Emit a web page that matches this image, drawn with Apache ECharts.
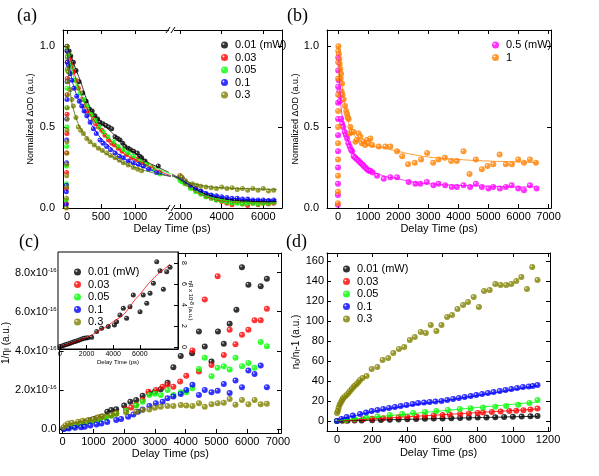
<!DOCTYPE html>
<html>
<head>
<meta charset="utf-8">
<script src="https://cdn.jsdelivr.net/npm/echarts@6/dist/echarts.min.js"></script>
<style>
html,body{margin:0;padding:0;background:#fff}
#chart{width:599px;height:476px}
</style>
</head>
<body>
<div id="chart"></div>
<script>
// ---------- data ----------
const powerNames = ['0.01 (mW)', '0.03', '0.05', '0.1', '0.3'];
const powerNamesB = ['0.5 (mW)', '1'];

// tick values
const aTicksL = [0, 500, 1000];
const aTicksR = [2000, 4000, 6000];
const aTicksY = [0, 0.5, 1.0];
const bTicksX = [0, 1000, 2000, 3000, 4000, 5000, 6000, 7000];
const cTicksX = [0, 1000, 2000, 3000, 4000, 5000, 6000, 7000];
const cTicksY = [0, 2, 4, 6, 8];
const insetTicksX = [0, 2000, 4000, 6000];
const insetTicksY = [0, 2, 4, 6, 8];
const dTicksX = [0, 200, 400, 600, 800, 1000, 1200];
const dTicksY = [0, 20, 40, 60, 80, 100, 120, 140, 160];

// (a) normalized dOD vs delay, [ps, value]
const a001 = [[0,1.0],[30,0.97],[55,0.94],[93,0.90],[132,0.85],[176,0.78],[230,0.71],[280,0.66],[330,0.61],[370,0.60],[410,0.57],[450,0.55],[485,0.53],[530,0.52],[573,0.51],[615,0.50],[657,0.49],[706,0.44],[745,0.43],[780,0.42],[820,0.40],[853,0.38],[900,0.37],[936,0.36],[980,0.35],[1034,0.34],[1070,0.32],[1098,0.31],[1147,0.29],[1343,0.26],
  [2000,0.19],[2100,0.18],[2250,0.16],[2500,0.14],[2750,0.12],[3000,0.10],[3250,0.085],[3500,0.07],[3750,0.055],[4000,0.05],[4250,0.045],[4500,0.04],[4750,0.05],[5000,0.04],[5250,0.045],[5500,0.04],[5750,0.04],[6000,0.035],[6250,0.045],[6500,0.04]];
const a003 = [[-12,0.03],[-9,0.12],[-7,0.22],[-5,0.34],[-3,0.46],[-1,0.58],[1,0.7],[3,0.8],[5,0.9],
  [0,0.97],[20,0.95],[44,0.92],[70,0.88],[93,0.84],[130,0.79],[166,0.74],[216,0.67],[260,0.63],[299,0.60],[340,0.58],[387,0.55],[420,0.52],[460,0.50],[510,0.48],[559,0.45],[610,0.42],[657,0.40],[700,0.39],[754,0.37],[810,0.35],[878,0.33],[950,0.31],[1025,0.30],[1100,0.28],[1172,0.27],[1250,0.25],[1368,0.22],
  [2000,0.20],[2100,0.18],[2250,0.15],[2500,0.13],[2750,0.11],[3000,0.09],[3250,0.07],[3500,0.06],[3750,0.05],[4000,0.04],[4250,0.03],[4500,0.02],[4750,0.035],[5000,0.025],[5250,0.015],[5500,0.03],[5750,0.02],[6000,0.03],[6250,0.025],[6500,0.03]];
const a005 = [[-14,0.05],[-10,0.15],[-8,0.26],[-6,0.38],[-4,0.5],[-2,0.62],[0,0.74],[2,0.85],[4,0.94],
  [0,0.98],[30,0.95],[73,0.87],[118,0.79],[150,0.75],[191,0.71],[240,0.67],[290,0.63],[350,0.58],[412,0.54],[470,0.50],[534,0.47],[600,0.44],[681,0.41],[750,0.38],[828,0.36],[900,0.34],[975,0.32],[1070,0.29],[1172,0.27],[1270,0.24],[1368,0.21],
  [2000,0.17],[2100,0.16],[2250,0.15],[2500,0.12],[2750,0.10],[3000,0.085],[3250,0.07],[3500,0.06],[3750,0.05],[4000,0.045],[4250,0.035],[4500,0.03],[4750,0.03],[5000,0.025],[5250,0.03],[5500,0.03],[5750,0.025],[6000,0.03],[6250,0.03],[6500,0.035]];
const a01 = [[-13,0.02],[-11,0.1],[-9,0.14],[-7,0.28],[-5,0.42],[-3,0.55],[-1,0.67],[1,0.78],[3,0.9],
  [0,0.97],[20,0.88],[45,0.83],[69,0.79],[100,0.74],[142,0.69],[180,0.66],[216,0.63],[250,0.60],[290,0.57],[340,0.53],[387,0.49],[430,0.46],[485,0.42],[530,0.40],[583,0.38],[640,0.36],[706,0.34],[770,0.32],[828,0.31],[900,0.29],[975,0.28],[1050,0.27],[1123,0.26],[1200,0.24],[1319,0.22],
  [2000,0.19],[2100,0.18],[2250,0.16],[2500,0.14],[2750,0.12],[3000,0.105],[3250,0.09],[3500,0.08],[3750,0.075],[4000,0.07],[4250,0.065],[4500,0.06],[4750,0.06],[5000,0.055],[5250,0.055],[5500,0.05],[5750,0.05],[6000,0.05],[6250,0.045],[6500,0.05]];
const a03 = [[-10,0.0],[-8,0.06],[-6,0.13],[-5,0.2],[-4,0.27],[-3,0.34],[-2,0.41],[-1,0.48],[0,0.55],[1,0.62],[2,0.7],[3,0.78],[4,0.86],[5,0.93],
  [0,1.0],[20,0.84],[44,0.73],[70,0.67],[93,0.63],[130,0.56],[166,0.50],[200,0.48],[240,0.46],[290,0.43],[338,0.41],[400,0.39],[460,0.37],[520,0.355],[583,0.34],[640,0.325],[706,0.31],[770,0.295],[828,0.28],[900,0.265],[975,0.25],[1040,0.24],[1098,0.23],
  [2000,0.20],[2100,0.19],[2250,0.17],[2400,0.15],[2600,0.15],[2800,0.14],[3000,0.135],[3250,0.13],[3500,0.125],[3750,0.12],[4000,0.13],[4250,0.12],[4500,0.125],[4750,0.115],[5000,0.12],[5250,0.11],[5500,0.12],[5750,0.11],[6000,0.12],[6250,0.105],[6500,0.11]];

// (a) fitted curves
const aFit001 = [[0,1.0],[50,0.95],[100,0.89],[200,0.78],[300,0.66],[400,0.58],[500,0.53],[600,0.49],[700,0.45],[800,0.41],[900,0.37],[1000,0.34],[1100,0.31],[1200,0.28],[1300,0.26],[1400,0.24],[1500,0.22],
  [1620,0.21],[2000,0.18],[2500,0.14],[3000,0.10],[3500,0.075],[4000,0.06],[4500,0.05],[5000,0.045],[6000,0.04],[6650,0.04]];
const aFit003 = [[0,0.98],[50,0.91],[100,0.84],[200,0.71],[300,0.61],[400,0.54],[500,0.48],[600,0.43],[700,0.39],[800,0.35],[900,0.32],[1000,0.30],[1200,0.26],[1400,0.22],[1530,0.20],
  [1620,0.20],[2000,0.17],[2500,0.12],[3000,0.085],[3500,0.06],[4000,0.045],[5000,0.035],[6650,0.03]];
const aFit005 = [[0,0.98],[50,0.89],[100,0.81],[200,0.70],[300,0.62],[400,0.55],[500,0.49],[600,0.44],[700,0.40],[800,0.37],[900,0.34],[1000,0.31],[1200,0.27],[1400,0.23],[1530,0.21],
  [1620,0.20],[2000,0.17],[2500,0.12],[3000,0.09],[3500,0.065],[4000,0.05],[5000,0.035],[6650,0.03]];
const aFit01 = [[0,0.97],[50,0.84],[100,0.75],[200,0.64],[300,0.56],[400,0.49],[500,0.43],[600,0.39],[700,0.35],[800,0.32],[900,0.29],[1000,0.27],[1200,0.24],[1400,0.21],[1530,0.195],
  [1620,0.20],[2000,0.18],[2500,0.14],[3000,0.11],[3500,0.085],[4000,0.07],[5000,0.055],[6650,0.05]];
const aFit03 = [[0,0.98],[30,0.80],[60,0.68],[100,0.60],[200,0.49],[300,0.43],[400,0.39],[500,0.36],[600,0.33],[700,0.31],[800,0.285],[900,0.265],[1000,0.25],[1200,0.225],[1400,0.205],[1530,0.195],
  [1620,0.20],[2000,0.18],[2500,0.155],[3000,0.14],[3500,0.13],[4000,0.125],[5000,0.12],[6650,0.115]];

// (b)
const b05 = [[-8,0.02],[-6,0.08],[-4,0.15],[-3,0.25],[-2,0.35],[-1,0.45],[0,0.55],[1,0.65],[2,0.75],[3,0.85],[5,0.93],
  [20,0.79],[40,0.72],[60,0.66],[76,0.69],[100,0.55],[133,0.52],[170,0.50],[220,0.47],[260,0.45],[299,0.43],[340,0.40],[385,0.38],[430,0.36],[465,0.35],[518,0.32],[570,0.31],[631,0.30],[690,0.29],[741,0.28],[800,0.27],[850,0.26],[907,0.25],[960,0.24],[1020,0.23],[1073,0.23],[1150,0.22],[1296,0.20],[1517,0.18],[1738,0.19],[1960,0.19],[2346,0.16],[2570,0.15],[2735,0.15],[2950,0.16],[3170,0.14],[3340,0.15],[3560,0.14],[3780,0.13],[3950,0.13],[4170,0.14],[4390,0.13],[4580,0.15],[4780,0.13],[5000,0.12],[5160,0.13],[5380,0.12],[5580,0.13],[5770,0.14],[5990,0.12],[6180,0.11],[6380,0.14],[6600,0.12]];
const b1 = [[-6,0.03],[-5,0.1],[-4,0.2],[-3,0.3],[-2,0.4],[-1,0.5],[0,0.6],[1,0.7],[2,0.8],[3,0.9],[5,0.97],[10,1.0],[25,0.95],[40,0.92],[53,0.89],[70,0.86],[85,0.80],[100,0.83],[115,0.72],[130,0.77],[150,0.70],[186,0.67],[230,0.63],[270,0.60],[299,0.58],[320,0.56],[352,0.55],[385,0.46],[408,0.50],[450,0.47],[518,0.47],[575,0.41],[620,0.42],[684,0.46],[741,0.44],[790,0.40],[851,0.41],[900,0.39],[963,0.42],[1020,0.40],[1073,0.43],[1130,0.39],[1350,0.38],[1570,0.38],[1740,0.38],[1960,0.35],[2130,0.32],[2326,0.27],[2550,0.28],[2760,0.30],[2960,0.34],[3160,0.28],[3340,0.30],[3550,0.31],[3760,0.29],[3950,0.29],[4170,0.35],[4370,0.21],[4580,0.30],[4780,0.24],[4970,0.26],[5160,0.27],[5370,0.33],[5580,0.27],[5780,0.27],[5990,0.30],[6180,0.28],[6380,0.30],[6580,0.28]];
const bFit05 = [[20,0.95],[60,0.75],[100,0.62],[200,0.50],[300,0.43],[400,0.38],[500,0.34],[700,0.29],[1000,0.24],[1500,0.20],[2000,0.18],[2500,0.16],[3000,0.15],[4000,0.14],[5000,0.135],[6000,0.13],[6600,0.13]];
const bFit1 = [[20,1.0],[60,0.90],[100,0.82],[200,0.66],[300,0.56],[400,0.50],[500,0.46],[700,0.42],[1000,0.39],[1500,0.37],[2000,0.35],[2500,0.33],[3000,0.315],[4000,0.30],[5000,0.29],[6000,0.285],[6600,0.28]];

// (c) 1/eta_I in units of 1e-16
const c001 = [[20,0.03],[100,0.08],[200,0.12],[300,0.16],[400,0.2],[500,0.25],[600,0.3],[700,0.35],[800,0.4],[900,0.45],[1000,0.5],[1100,0.55],[1260,0.63],[1450,0.89],[1580,0.97],[1740,1.01],[2000,1.2],[2200,1.40],[2390,1.49],[2600,1.71],[2820,1.83],[3000,1.91],[3190,2.03],[3410,2.37],[3600,3.16],[3840,3.74],[4210,3.88],[4430,4.99],[4620,4.22],[4840,3.45],[5050,4.99],[5240,4.36],[5430,5.38],[5650,6.10],[5830,8.27],[6040,7.38],[6440,7.30],[6640,7.68]];
const c003 = [[50,0.05],[200,0.1],[400,0.18],[600,0.27],[800,0.35],[1000,0.43],[1200,0.5],[1400,0.6],[1580,0.7],[1740,0.8],[2060,1.0],[2230,1.1],[2390,1.23],[2600,1.49],[2790,1.91],[3030,2.0],[3250,2.17],[3410,2.26],[3600,2.17],[3820,2.43],[4020,2.72],[4220,4.02],[4430,2.94],[4620,6.62],[4840,3.28],[5040,7.81],[5240,3.79],[5430,5.08],[5620,4.34],[5830,4.82],[6040,5.08],[6240,5.56],[6440,5.56],[6640,6.15]];
const c005 = [[50,0.04],[200,0.1],[400,0.17],[600,0.25],[800,0.32],[1000,0.4],[1200,0.48],[1400,0.58],[1580,0.68],[1740,0.78],[2060,0.94],[2390,1.2],[2600,1.4],[2820,1.74],[3000,1.81],[3190,1.74],[3410,2.0],[3600,1.74],[3840,1.88],[4020,1.88],[4220,2.09],[4430,3.07],[4620,3.64],[4840,2.70],[5040,3.13],[5240,3.21],[5430,3.04],[5620,3.64],[5830,3.21],[6040,3.38],[6240,3.13],[6440,4.45],[6640,4.23]];
const c01 = [[50,0.0],[200,0.03],[400,0.07],[600,0.1],[720,0.12],[900,0.18],[1100,0.24],[1260,0.29],[1450,0.36],[1740,0.46],[1900,0.52],[2130,0.63],[2300,0.75],[2450,0.89],[2600,1.0],[2820,1.18],[3030,1.32],[3250,1.40],[3410,1.57],[3600,1.66],[3840,1.79],[4020,2.0],[4220,2.26],[4430,1.74],[4620,2.0],[4840,1.88],[5040,1.96],[5240,2.31],[5430,1.84],[5620,2.48],[5830,2.14],[6040,2.99],[6240,2.82],[6440,3.25],[6640,2.14]];
const c03 = [[30,0.1],[100,0.2],[180,0.29],[300,0.33],[500,0.38],[650,0.42],[830,0.46],[1000,0.52],[1150,0.60],[1300,0.65],[1580,0.72],[1740,0.80],[2060,0.86],[2390,0.89],[2600,0.97],[2820,1.0],[3000,1.09],[3190,1.14],[3410,1.18],[3600,1.18],[3840,1.23],[4020,1.20],[4220,1.18],[4430,1.32],[4620,1.14],[4840,1.27],[5040,1.32],[5240,1.35],[5430,1.54],[5620,1.25],[5830,1.49],[6040,1.27],[6240,1.49],[6440,1.27],[6640,1.30]];

// (c) inset: eta_R x 1e-8
const inset001 = [[0,0.03],[150,0.08],[300,0.15],[450,0.22],[600,0.28],[750,0.35],[900,0.42],[1050,0.48],[1200,0.55],[1350,0.62],[1500,0.68],[1650,0.75],[1800,0.82],[1950,0.85],[2100,0.88],[2380,0.92],[2760,1.46],[3130,1.78],[3630,1.94],[4090,2.1],[4260,2.4],[4510,3.05],[4760,3.69],[5010,2.73],[5260,3.84],[5510,4.95],[6015,3.36],[6260,4.95],[6520,4.16],[6770,5.11],[7020,6.06],[7270,8.12],[7520,7.27],[7770,5.5],[8020,7.17],[8270,7.59]];
const insetFit = [[0,0],[1000,0.42],[2000,0.9],[3000,1.6],[3500,1.95],[4000,2.4],[4640,2.95],[5000,3.4],[5640,4.5],[6000,5.0],[6500,5.8],[7000,6.5],[7500,7.1],[8000,7.6],[8270,7.9]];

// (d) n0/nI - 1
const d001 = [[0,0],[30,0.2],[60,0.3],[100,0.5],[140,0.6],[200,0.8],[250,1.0],[300,1.2],[350,1.5],[400,1.7],[450,2.0],[500,2.2],[550,2.4],[600,2.6],[650,2.8],[700,3.0],[750,3.2],[800,3.4],[850,3.6],[900,3.8],[950,4.0],[1000,4.2],[1050,4.4],[1100,4.7],[1140,5.0]];
const d003 = [[0,0],[50,0.6],[100,1.2],[150,1.8],[200,2.3],[263,2.8],[300,3.2],[350,3.7],[400,4.1],[452,4.6],[500,5.1],[550,5.6],[600,6.1],[641,6.5],[700,7.1],[750,7.6],[800,8.1],[830,8.4],[880,8.9],[930,9.4],[980,9.9],[1019,10.3],[1060,10.8],[1100,11.5],[1140,12.5]];
const d005 = [[0,0],[50,1],[100,2],[168,3.2],[230,4.5],[300,6],[370,7],[433,8],[500,9],[565,10],[630,11],[698,12],[760,12.8],[830,13.5],[900,14.3],[962,15],[1030,16.3],[1094,18],[1140,21]];
const d01 = [[0,0],[25,2],[55,4],[90,5.5],[131,7],[165,8.5],[197,10],[230,11],[263,12],[296,13],[329,14],[362,15],[395,16],[430,17],[461,18],[495,18.5],[527,19],[560,19.5],[594,20],[627,21],[660,22],[693,23],[726,24],[760,25],[792,26],[825,27],[858,28],[890,29],[925,30],[958,31],[991,32],[1024,33],[1057,34],[1090,34.5],[1113,35],[1140,36]];
const d03 = [[0,8],[5,10],[9,13],[14,16],[20,18],[27,20],[32,22],[36,23],[45,24.5],[55,26],[65,28],[74,30],[84,32],[93,34],[102,35.5],[112,37],[122,39],[131,41],[145,43],[168,45],[197,52],[229,54],[259,61],[291,63],[320,68],[352,72],[382,74],[414,81],[442,84],[476,89],[505,88],[533,96],[565,90],[594,96],[626,104],[654,106],[685,112],[717,116],[745,119],[777,124],[807,114],[836,130],[868,131],[900,137],[930,136],[962,136],[991,137],[1019,140],[1048,144],[1080,132],[1110,154],[1140,141]];
const dFit001 = [[0,0],[1140,4.8]];
const dFit003 = [[0,0],[1140,12]];
const dFit005 = [[0,0.5],[1140,19]];
const dFit01 = [[0,1],[200,9],[400,15],[600,20],[800,25.5],[1000,31],[1140,35.5]];

// ---------- styling helpers ----------
const FONT = 'Liberation Sans';
const COL = ['#000000', '#ff0000', '#00ff00', '#0000ff', '#808000'];
const COLB = ['#ff00ff', '#ff8000'];
const plain = v => String(v);

function ball(c) {
  return {type: 'radial', x: 0.35, y: 0.35, r: 0.7,
    colorStops: [{offset: 0, color: '#ffffff'}, {offset: 0.3, color: c}, {offset: 1, color: c}]};
}

function xAx(grid, min, max, vals, showLabel, pos, extra) {
  return Object.assign({
    type: 'value', gridIndex: grid, min: min, max: max, position: pos || 'bottom',
    axisLine: {onZero: false, lineStyle: {color: '#000', width: 1}},
    axisTick: {inside: true, length: 4, customValues: vals, lineStyle: {color: '#000'}},
    axisLabel: {show: showLabel, customValues: vals, formatter: plain, color: '#000', fontFamily: FONT, fontSize: 11, margin: 3},
    splitLine: {show: false}
  }, extra || {});
}
function yAx(grid, min, max, vals, showLabel, pos, extra) {
  return Object.assign({
    type: 'value', gridIndex: grid, min: min, max: max, position: pos || 'left',
    axisLine: {onZero: false, lineStyle: {color: '#000', width: 1}},
    axisTick: {inside: true, length: 4, customValues: vals, lineStyle: {color: '#000'}},
    axisLabel: {show: showLabel, customValues: vals, formatter: plain, color: '#000', fontFamily: FONT, fontSize: 11, margin: 3},
    splitLine: {show: false}
  }, extra || {});
}
function pts(name, data, color, xi, yi, size) {
  return {type: 'scatter', name: name, data: data, xAxisIndex: xi, yAxisIndex: yi,
    symbol: 'circle', symbolSize: size, itemStyle: {color: ball(color)}, z: 3};
}
function fit(data, color, xi, yi) {
  return {type: 'line', data: data, xAxisIndex: xi, yAxisIndex: yi, symbol: 'none', smooth: true,
    lineStyle: {color: color, width: 0.8}, silent: true, z: 4};
}
const nameStyle = (size) => ({fontFamily: FONT, fontSize: size, color: '#000'});

// split (a) data over the broken axis
const BREAK = 1580;
const leftPart = d => d.filter(p => p[0] < BREAK);
const rightPart = d => d.filter(p => p[0] >= BREAK);

const aData = [a001, a003, a005, a01, a03];
const aFits = [aFit001, aFit003, aFit005, aFit01, aFit03];
const cData = [c001, c003, c005, c01, c03];
const dData = [d001, d003, d005, d01, d03];
const dFits = [dFit001, dFit003, dFit005, dFit01];

// ---------- option ----------
const series = [];
aData.forEach((d, i) => {
  series.push(fit(leftPart(aFits[i]), i === 4 ? '#3d6b00' : COL[i], 0, 0));
  series.push(fit(rightPart(aFits[i]), i === 4 ? '#3d6b00' : COL[i], 2, 1));
});
aData.forEach((d, i) => {
  series.push(pts(powerNames[i], leftPart(d), COL[i], 0, 0, 5));
  series.push(pts(powerNames[i], rightPart(d), COL[i], 2, 1, 5));
});
series.push(pts(powerNamesB[0], b05, COLB[0], 4, 2, 6));
series.push(pts(powerNamesB[1], b1, COLB[1], 4, 2, 6));
series.push(fit(bFit05, COLB[0], 4, 2));
series.push(fit(bFit1, COLB[1], 4, 2));
cData.forEach((d, i) => series.push(pts(powerNames[i], d, COL[i], 6, 4, 6)));
series.push(pts(powerNames[0], inset001, COL[0], 8, 6, 5));
series.push(fit(insetFit, '#ff0000', 8, 6));
dFits.forEach((d, i) => series.push(fit(d, COL[i], 9, 7)));
dData.forEach((d, i) => series.push(pts(powerNames[i], d, COL[i], 9, 7, 6)));

const legendBase = {
  orient: 'vertical', icon: 'circle', itemWidth: 7, itemHeight: 7, itemGap: 0.5,
  textStyle: {fontFamily: FONT, fontSize: 11, color: '#000', lineHeight: 12, padding: [0, 0, 0, 2]},
  selectedMode: false
};

const option = {
  animation: false,
  backgroundColor: '#fff',
  grid: [
    {left: 63, top: 30, width: 109, height: 178},
    {left: 172, top: 30, width: 110, height: 178},
    {left: 327, top: 30, width: 224, height: 178},
    {left: 58, top: 253, width: 223, height: 180},
    {left: 58, top: 252, width: 120, height: 97, show: true, backgroundColor: '#fff', borderColor: '#000', borderWidth: 1, z: 1},
    {left: 327, top: 253, width: 223, height: 178}
  ],
  xAxis: [
    xAx(0, -60, 1545, aTicksL, true, 'bottom'),
    xAx(0, -60, 1545, aTicksL, false, 'top'),
    xAx(1, 1615, 6900, aTicksR, true, 'bottom'),
    xAx(1, 1615, 6900, aTicksR, false, 'top'),
    xAx(2, -370, 7080, bTicksX, true, 'bottom', {name: 'Delay Time (ps)', nameLocation: 'middle', nameGap: 15, nameTextStyle: nameStyle(11)}),
    xAx(2, -370, 7080, bTicksX, false, 'top'),
    xAx(3, -100, 7100, cTicksX, true, 'bottom', {name: 'Delay Time (ps)', nameLocation: 'middle', nameGap: 15, nameTextStyle: nameStyle(11)}),
    xAx(3, -100, 7100, cTicksX, false, 'top'),
    Object.assign(xAx(4, -150, 8870, insetTicksX, true, 'bottom', {name: 'Delay Time (ps)', nameLocation: 'middle', nameGap: 8, nameTextStyle: nameStyle(6)}),
      {axisLabel: {customValues: insetTicksX, formatter: plain, color: '#000', fontFamily: FONT, fontSize: 7, margin: 2}, z: 5}),
    xAx(5, -57, 1211, dTicksX, true, 'bottom', {name: 'Delay Time (ps)', nameLocation: 'middle', nameGap: 16, nameTextStyle: nameStyle(11)}),
    xAx(5, -57, 1211, dTicksX, false, 'top')
  ],
  yAxis: [
    yAx(0, 0, 1.1, aTicksY, true, 'left', {name: 'Normalized ΔOD (a.u.)', nameLocation: 'middle', nameGap: 28, nameTextStyle: nameStyle(9)}),
    yAx(1, 0, 1.1, aTicksY, false, 'right'),
    yAx(2, 0, 1.1, aTicksY, true, 'left', {name: 'Normalized ΔOD (a.u.)', nameLocation: 'middle', nameGap: 24, nameTextStyle: nameStyle(9)}),
    yAx(2, 0, 1.1, aTicksY, false, 'right'),
    yAx(3, -0.2, 9.0, cTicksY, true, 'left', {
      name: '1/η{s|I} (a.u.)', nameLocation: 'middle', nameGap: 44,
      nameTextStyle: {fontFamily: FONT, fontSize: 10, color: '#000', rich: {s: {fontFamily: FONT, fontSize: 7, verticalAlign: 'bottom'}}}
    }),
    yAx(3, -0.2, 9.0, cTicksY, false, 'right'),
    Object.assign(yAx(4, -0.2, 9.05, insetTicksY, true, 'right', {
      name: 'η{s|R} x 10{p|-8} (a.u.)', nameLocation: 'middle', nameGap: 9, nameRotate: -90,
      nameTextStyle: {fontFamily: FONT, fontSize: 6, color: '#000', rich: {s: {fontFamily: FONT, fontSize: 5, verticalAlign: 'bottom'}, p: {fontFamily: FONT, fontSize: 5, verticalAlign: 'top'}}}
    }), {axisLabel: {customValues: insetTicksY, formatter: plain, color: '#000', fontFamily: FONT, fontSize: 7, margin: 2, rotate: -90}, z: 5}),
    yAx(5, -10, 168, dTicksY, true, 'left', {
      name: 'n{s|0}/n{s|I}-1 (a.u.)', nameLocation: 'middle', nameGap: 24,
      nameTextStyle: {fontFamily: FONT, fontSize: 10, color: '#000', rich: {s: {fontFamily: FONT, fontSize: 7, verticalAlign: 'bottom'}}}
    }),
    yAx(5, -10, 168, dTicksY, false, 'right')
  ],
  legend: [
    Object.assign({}, legendBase, {left: 216, top: 34, data: powerNames}),
    Object.assign({}, legendBase, {left: 487, top: 34, data: powerNamesB}),
    Object.assign({}, legendBase, {left: 69, top: 261, data: powerNames, z: 10}),
    Object.assign({}, legendBase, {left: 338, top: 258, data: powerNames})
  ],
  graphic: [
    {type: 'text', left: 17, top: 7, style: {text: '(a)', font: '18px "Liberation Serif"', fill: '#000'}},
    {type: 'text', left: 287, top: 7, style: {text: '(b)', font: '18px "Liberation Serif"', fill: '#000'}},
    {type: 'text', left: 19, top: 233, style: {text: '(c)', font: '18px "Liberation Serif"', fill: '#000'}},
    {type: 'text', left: 286, top: 233, style: {text: '(d)', font: '18px "Liberation Serif"', fill: '#000'}},
    {type: 'text', x: 172, y: 229, style: {text: 'Delay Time (ps)', font: '11px "Liberation Sans"', fill: '#000', align: 'center', verticalAlign: 'middle'}},
    // axis break marks
    {type: 'rect', shape: {x: 169, y: 206, width: 5, height: 4}, style: {fill: '#fff'}, z: 100},
    {type: 'rect', shape: {x: 169, y: 28, width: 5, height: 4}, style: {fill: '#fff'}, z: 100},
    {type: 'line', shape: {x1: 166, y1: 211, x2: 170, y2: 205}, style: {stroke: '#000', lineWidth: 1}, z: 101},
    {type: 'line', shape: {x1: 171, y1: 211, x2: 175, y2: 205}, style: {stroke: '#000', lineWidth: 1}, z: 101},
    {type: 'line', shape: {x1: 166, y1: 33, x2: 170, y2: 27}, style: {stroke: '#000', lineWidth: 1}, z: 101},
    {type: 'line', shape: {x1: 171, y1: 33, x2: 175, y2: 27}, style: {stroke: '#000', lineWidth: 1}, z: 101}
  ],
  series: series
};

// (c) main y labels with superscript exponent
option.yAxis[4].axisLabel = {
  customValues: cTicksY, color: '#000', fontFamily: FONT, fontSize: 11, margin: 3,
  formatter: v => v === 0 ? '0.0' : v.toFixed(1) + 'x10{s|-16}',
  rich: {s: {fontFamily: FONT, fontSize: 6, verticalAlign: 'top'}}
};
option.yAxis[0].axisLabel.formatter = v => v.toFixed(1);
option.yAxis[0].axisLabel.margin = 8;
option.yAxis[2].axisLabel.formatter = v => v.toFixed(1);
option.yAxis[2].axisLabel.margin = 8;

const chart = echarts.init(document.getElementById('chart'), null, {renderer: 'canvas'});
chart.setOption(option);
</script>
</body>
</html>
